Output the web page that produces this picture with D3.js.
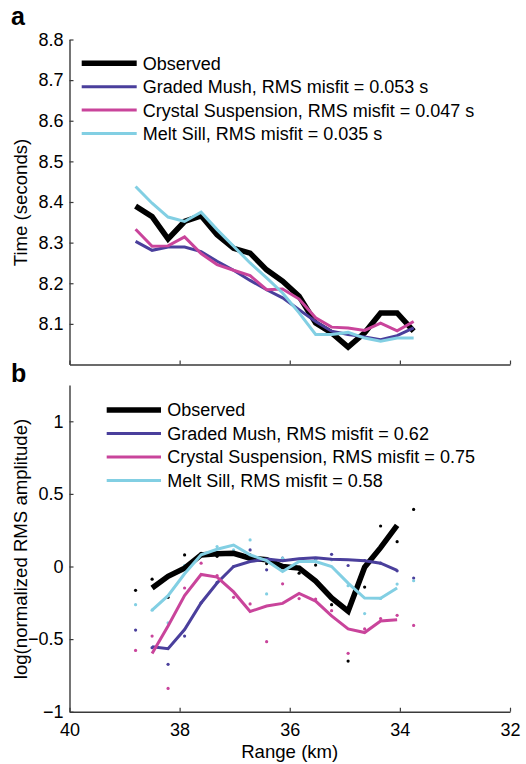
<!DOCTYPE html>
<html>
<head>
<meta charset="utf-8">
<script src="https://cdn.jsdelivr.net/npm/d3@7"></script>
<style>
  html, body { margin: 0; padding: 0; background: #fff; }
  svg { display: block; }
  text { font-family: "Liberation Sans", Arial, Helvetica, sans-serif; fill: #000; }
</style>
</head>
<body>
<svg id="chart" width="526" height="764"></svg>
<script>
// Source-receiver range (km) for each trace
const rangeKm = [38.80, 38.50, 38.21, 37.91, 37.61, 37.32, 37.02, 36.72, 36.42,
                 36.13, 35.83, 35.53, 35.24, 34.94, 34.64, 34.35, 34.05, 33.75];

// Panel a: travel times (s)
const observedTime = [8.390, 8.364, 8.309, 8.352, 8.366, 8.319, 8.286, 8.274, 8.233,
                      8.205, 8.168, 8.102, 8.078, 8.043, 8.078, 8.127, 8.127, 8.082];
const gradedTime   = [8.303, 8.281, 8.289, 8.289, 8.278, 8.254, 8.232, 8.207, 8.184,
                      8.164, 8.135, 8.106, 8.082, 8.074, 8.068, 8.061, 8.071, 8.090];
const crystalTime  = [8.333, 8.291, 8.292, 8.314, 8.273, 8.246, 8.232, 8.219, 8.184,
                      8.186, 8.161, 8.115, 8.092, 8.090, 8.084, 8.102, 8.083, 8.106];
const sillTime     = [8.438, 8.397, 8.363, 8.352, 8.375, 8.332, 8.291, 8.250, 8.213,
                      8.176, 8.127, 8.074, 8.074, 8.079, 8.065, 8.057, 8.065, 8.065];

// Panel b: log normalized RMS amplitude per trace (dots)
const observedAmp = [-0.164, -0.087, -0.212, 0.080, 0.090, 0.070, 0.100, 0.080, 0.020,
                     0.000, -0.046, 0.010, -0.263, -0.651, -0.142, 0.279, 0.171, 0.393];
const gradedAmp   = [-0.438, -0.559, -0.674, -0.479, -0.250, -0.110, 0.000, 0.114, -0.023,
                     0.057, 0.050, 0.050, 0.084, 0.007, 0.041, 0.023, -0.030, -0.080];
const crystalAmp  = [-0.578, -0.479, -0.840, -0.148, 0.023, -0.062, -0.212, -0.258, -0.518,
                     -0.119, -0.221, -0.224, -0.304, -0.598, -0.430, -0.358, -0.336, -0.406];
const sillAmp     = [-0.263, -0.301, -0.388, 0.007, 0.080, 0.137, 0.114, 0.183, -0.189,
                     0.057, -0.016, 0.053, 0.046, -0.132, -0.324, -0.220, -0.121, -0.098];

// Panel b: smoothed amplitude curves (interior traces 2..17)
const smoothRangeKm = rangeKm.slice(1, 17);
const observedAmpSmooth = [-0.148, -0.068, -0.011, 0.080, 0.087, 0.091, 0.057, 0.046,
                           0.000, -0.011, -0.100, -0.217, -0.308, -0.005, 0.130, 0.283];
const gradedAmpSmooth   = [-0.553, -0.566, -0.434, -0.251, -0.114, 0.000, 0.034, 0.052,
                           0.039, 0.053, 0.060, 0.050, 0.046, 0.039, 0.023, -0.027];
const crystalAmpSmooth  = [-0.600, -0.410, -0.200, -0.055, -0.073, -0.175, -0.310, -0.272,
                           -0.254, -0.186, -0.238, -0.340, -0.430, -0.455, -0.375, -0.367];
const sillAmpSmooth     = [-0.301, -0.201, -0.050, 0.080, 0.119, 0.148, 0.080, 0.040,
                           -0.034, 0.034, 0.034, 0.000, -0.114, -0.217, -0.219, -0.148];

const seriesNames = ["Observed", "Graded Mush", "Crystal Suspension", "Melt Sill"];
const seriesColors = ["#000000", "#4a3f9c", "#c9449b", "#82cfe3"];
const seriesWidths = [5.5, 3, 3, 3];
const timeMisfit = ["", "0.053 s", "0.047 s", "0.035 s"];
const ampMisfit = ["", "0.62", "0.75", "0.58"];

const timeTicks = [8.1, 8.2, 8.3, 8.4, 8.5, 8.6, 8.7, 8.8];
const ampTicks = [-1, -0.5, 0, 0.5, 1];
const rangeTicks = [40, 38, 36, 34, 32];

const svg = d3.select("#chart");
const FS = 18;

const x = d3.scaleLinear().domain([40, 32]).range([69.5, 510]);
const yA = d3.scaleLinear().domain([8.0, 8.8]).range([364.5, 39.5]);
const yB = d3.scaleLinear().domain([-1, 1.25]).range([711.7, 385]);

function styleAxis(g) {
  g.select(".domain").attr("stroke", "#3a3a3a").attr("stroke-width", 1.4);
  g.selectAll(".tick line").attr("stroke", "#3a3a3a").attr("stroke-width", 1.2);
  g.selectAll(".tick text")
    .attr("font-size", FS)
    .attr("font-family", "Liberation Sans, Arial, Helvetica, sans-serif")
    .attr("fill", "#000");
}

function drawLegend(g, x0, x1, tx, y0, dy, labels) {
  labels.forEach((lab, i) => {
    const y = y0 + i * dy;
    g.append("line")
      .attr("x1", x0).attr("x2", x1).attr("y1", y).attr("y2", y)
      .attr("stroke", seriesColors[i]).attr("stroke-width", seriesWidths[i]);
    g.append("text")
      .attr("x", tx).attr("y", y).attr("dy", "0.36em")
      .attr("font-size", FS).text(lab);
  });
}

// ---------- Panel a: travel times ----------
const gA = svg.append("g");
gA.append("g")
  .attr("transform", `translate(0,${yA.range()[0]})`)
  .call(d3.axisBottom(x).tickValues(rangeTicks).tickSizeInner(-4).tickSizeOuter(0).tickFormat(""))
  .call(styleAxis);
gA.append("g")
  .attr("transform", `translate(${x.range()[0]},0)`)
  .call(d3.axisLeft(yA).tickValues(timeTicks).tickSizeInner(-4).tickSizeOuter(0)
          .tickPadding(6).tickFormat(d3.format(".1f")))
  .call(styleAxis);

const timeSeries = [observedTime, gradedTime, crystalTime, sillTime];
const lineA = d3.line().x((d, i) => x(rangeKm[i])).y(d => yA(d));
timeSeries.forEach((vals, s) => {
  gA.append("path")
    .datum(vals)
    .attr("fill", "none")
    .attr("stroke", seriesColors[s])
    .attr("stroke-width", seriesWidths[s])
    .attr("stroke-linejoin", "miter")
    .attr("d", lineA);
});

drawLegend(gA, 81.7, 136.7, 142.7, 63.3, 23.4,
  seriesNames.map((n, i) => i === 0 ? n : `${n}, RMS misfit = ${timeMisfit[i]}`));

gA.append("text")
  .attr("transform", "translate(26.7,202.5) rotate(-90)")
  .attr("text-anchor", "middle").attr("font-size", 18.6)
  .text("Time (seconds)");

svg.append("text").attr("x", 11).attr("y", 25)
  .attr("font-size", 25).attr("font-weight", "bold").text("a");

// ---------- Panel b: amplitudes ----------
const gB = svg.append("g");
gB.append("g")
  .attr("transform", `translate(0,${yB.range()[0]})`)
  .call(d3.axisBottom(x).tickValues(rangeTicks).tickSizeInner(-4).tickSizeOuter(0)
          .tickPadding(11.5).tickFormat(d3.format("d")))
  .call(styleAxis);
gB.append("g")
  .attr("transform", `translate(${x.range()[0]},0)`)
  .call(d3.axisLeft(yB).tickValues(ampTicks).tickSizeInner(-4).tickSizeOuter(0)
          .tickPadding(6).tickFormat(d3.format("~g")))
  .call(styleAxis);

const ampDots = [observedAmp, gradedAmp, crystalAmp, sillAmp];
const ampSmooth = [observedAmpSmooth, gradedAmpSmooth, crystalAmpSmooth, sillAmpSmooth];
const lineB = d3.line().x((d, i) => x(smoothRangeKm[i])).y(d => yB(d));

ampDots.forEach((vals, s) => {
  gB.append("g").selectAll("circle")
    .data(vals)
    .join("circle")
    .attr("cx", (d, i) => x(rangeKm[i]))
    .attr("cy", d => yB(d))
    .attr("r", 1.6)
    .attr("fill", seriesColors[s]);
});
ampSmooth.forEach((vals, s) => {
  gB.append("path")
    .datum(vals)
    .attr("fill", "none")
    .attr("stroke", seriesColors[s])
    .attr("stroke-width", seriesWidths[s])
    .attr("d", lineB);
});

drawLegend(gB, 106.7, 161, 167.3, 410, 23.5,
  seriesNames.map((n, i) => i === 0 ? n : `${n}, RMS misfit = ${ampMisfit[i]}`));

gB.append("text")
  .attr("transform", "translate(26.7,549) rotate(-90)")
  .attr("text-anchor", "middle").attr("font-size", 18.6)
  .text("log(normalized RMS amplitude)");

gB.append("text")
  .attr("x", (x.range()[0] + x.range()[1]) / 2).attr("y", 757.5)
  .attr("text-anchor", "middle").attr("font-size", 18.6)
  .text("Range (km)");

svg.append("text").attr("x", 11).attr("y", 381.7)
  .attr("font-size", 25).attr("font-weight", "bold").text("b");
</script>
</body>
</html>
